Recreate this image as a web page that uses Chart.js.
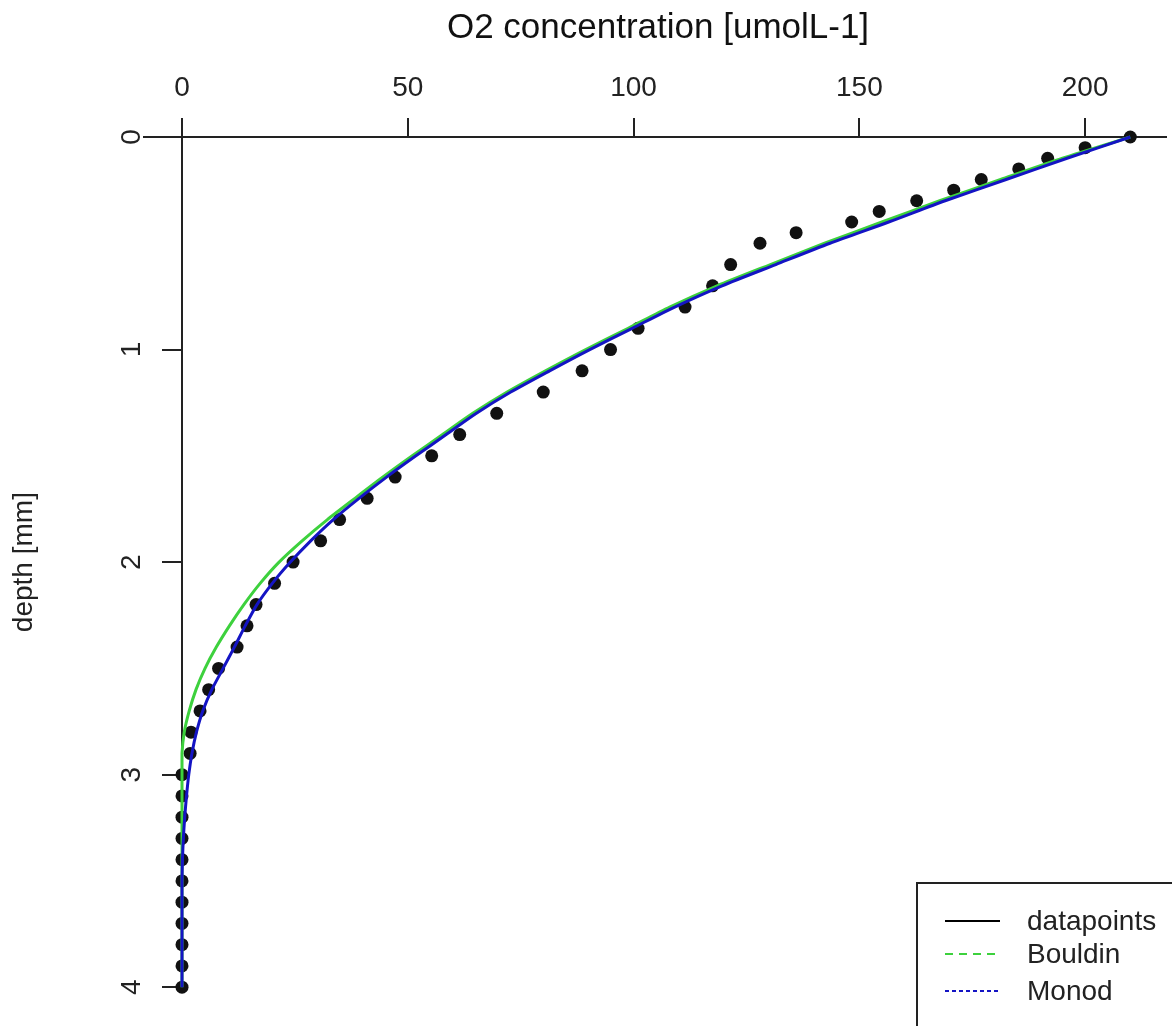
<!DOCTYPE html>
<html>
<head>
<meta charset="utf-8">
<script src="https://cdn.jsdelivr.net/npm/chart.js@4.4.1/dist/chart.umd.min.js"></script>
<style>
  html, body { margin: 0; padding: 0; background: #fff; }
  #grafico { width: 1172px; height: 1026px; }
</style>
</head>
<body>
<div id="grafico"><canvas id="profileChart"></canvas></div>
<script>
// measured O2 profile
const pointDepth = [0, 0.05, 0.1, 0.15, 0.2, 0.25, 0.3, 0.35, 0.4, 0.45, 0.5,
    0.6, 0.7, 0.8, 0.9, 1.0, 1.1, 1.2, 1.3, 1.4, 1.5, 1.6, 1.7, 1.8, 1.9, 2.0,
    2.1, 2.2, 2.3, 2.4, 2.5, 2.6, 2.7, 2.8, 2.9, 3.0, 3.1, 3.2, 3.3, 3.4, 3.5,
    3.6, 3.7, 3.8, 3.9, 4.0];
const pointO2 = [210.0, 200.0, 191.7, 185.3, 177.0, 170.9, 162.7, 154.4, 148.3, 136.0, 128.0,
    121.5, 117.5, 111.4, 101.0, 94.9, 88.6, 80.0, 69.7, 61.5, 55.3, 47.2, 41.0, 34.9, 30.7, 24.6,
    20.5, 16.4, 14.4, 12.2, 8.1, 5.9, 4.0, 2.0, 1.8, 0, 0, 0, 0, 0, 0,
    0, 0, 0, 0, 0];

// fitted models
const curveDepth = [0, 0.1, 0.2, 0.3, 0.4, 0.5, 0.6, 0.7, 0.8, 0.9, 1.0,
    1.1, 1.2, 1.3, 1.4, 1.5, 1.6, 1.7, 1.8, 1.9, 2.0,
    2.1, 2.2, 2.3, 2.4, 2.5, 2.6, 2.7, 2.8, 2.9, 3.0,
    3.1, 3.2, 3.3, 3.4, 3.5, 3.6, 3.7, 3.8, 3.9, 4.0];
const bouldinO2 = [210, 195, 181.3, 167.8, 155, 142.3, 130.3, 118.5, 108, 98.8, 89.4,
    80.5, 72, 64.4, 57.7, 51, 44.5, 38.3, 32.2, 26.6, 21.5,
    17.3, 13.7, 10.5, 7.6, 5.1, 3.1, 1.6, 0.5, 0, 0,
    0, 0, 0, 0, 0, 0, 0, 0, 0, 0];
const monodO2 = [210, 196, 182.5, 169, 156.5, 143.5, 131.5, 119.6, 109.1, 99.7, 90.3,
    81.4, 72.8, 65.2, 58.5, 51.8, 45.3, 39.2, 33.5, 28.5, 24.0,
    20.0, 16.6, 14.0, 11.6, 9.1, 6.6, 4.6, 3.2, 2.2, 1.5,
    1.0, 0.6, 0.3, 0.1, 0, 0, 0, 0, 0, 0];

const xTickValues = [0, 50, 100, 150, 200];
const yTickValues = [0, 1, 2, 3, 4];
const legendLabels = ['datapoints', 'Bouldin', 'Monod'];

const axisColor = '#222';
const bouldinColor = '#3dd13d';
const monodColor = '#1414c4';
const fontFamily = '"Liberation Sans", Arial, sans-serif';

function toXY(xs, ys) {
    return xs.map((x, i) => ({ x: x, y: ys[i] }));
}

const decorPlugin = {
    id: 'decor',
    afterDraw(chart) {
        const ctx = chart.ctx;
        const x0 = chart.scales.x.getPixelForValue(0);
        const y0 = chart.scales.y.getPixelForValue(0);

        ctx.save();
        // zero line runs a bit past the y axis
        ctx.strokeStyle = axisColor;
        ctx.lineWidth = 2;
        ctx.beginPath();
        ctx.moveTo(x0 - 39, y0);
        ctx.lineTo(x0, y0);
        ctx.stroke();

        // main title
        ctx.fillStyle = '#111';
        ctx.font = '35px ' + fontFamily;
        ctx.textAlign = 'center';
        ctx.textBaseline = 'alphabetic';
        ctx.fillText('O2 concentration [umolL-1]', 658, 38);

        // legend box, cut by the picture edge like the original
        ctx.lineWidth = 2;
        ctx.strokeRect(917, 883, 400, 300);
        const rows = [921, 954, 991];
        const styles = [
            { color: '#000', dash: [] },
            { color: bouldinColor, dash: [8, 6] },
            { color: monodColor, dash: [4, 3] }
        ];
        ctx.font = '28px ' + fontFamily;
        ctx.textAlign = 'left';
        ctx.textBaseline = 'middle';
        legendLabels.forEach((lab, i) => {
            ctx.strokeStyle = styles[i].color;
            ctx.setLineDash(styles[i].dash);
            ctx.lineWidth = 2;
            ctx.beginPath();
            ctx.moveTo(945, rows[i]);
            ctx.lineTo(1000, rows[i]);
            ctx.stroke();
            ctx.setLineDash([]);
            ctx.fillStyle = '#222';
            ctx.fillText(lab, 1027, rows[i] + 1);
        });
        ctx.restore();
    }
};

new Chart(document.getElementById('profileChart').getContext('2d'), {
    type: 'scatter',
    data: {
        datasets: [
            {
                label: legendLabels[2],
                data: toXY(monodO2, curveDepth),
                showLine: true,
                borderColor: monodColor,
                borderWidth: 3,
                pointRadius: 0,
                tension: 0.25,
                clip: false,
                order: 0
            },
            {
                label: legendLabels[1],
                data: toXY(bouldinO2, curveDepth),
                showLine: true,
                borderColor: bouldinColor,
                borderWidth: 3,
                pointRadius: 0,
                tension: 0.25,
                clip: false,
                order: 1
            },
            {
                label: legendLabels[0],
                data: toXY(pointO2, pointDepth),
                showLine: false,
                backgroundColor: '#111',
                borderWidth: 0,
                pointRadius: 6.5,
                clip: false,
                order: 2
            }
        ]
    },
    options: {
        responsive: true,
        maintainAspectRatio: false,
        animation: false,
        events: [],
        layout: { padding: { left: 0, right: 0, top: 0, bottom: 34 } },
        plugins: {
            legend: { display: false },
            tooltip: { enabled: false }
        },
        scales: {
            x: {
                type: 'linear',
                position: 'top',
                min: 0,
                max: 217.8,
                afterBuildTicks: (scale) => { scale.ticks = xTickValues.map(v => ({ value: v })); },
                afterFit: (scale) => { scale.height = 137; },
                ticks: {
                    color: '#222',
                    font: { family: fontFamily, size: 28 },
                    padding: 13,
                    maxRotation: 0
                },
                grid: {
                    drawOnChartArea: false,
                    drawTicks: true,
                    tickLength: 19,
                    color: axisColor,
                    lineWidth: 2
                },
                border: { display: true, color: axisColor, width: 2 }
            },
            y: {
                type: 'linear',
                reverse: true,
                min: 0,
                max: 4,
                afterBuildTicks: (scale) => { scale.ticks = yTickValues.map(v => ({ value: v })); },
                afterFit: (scale) => { scale.width = 182; },
                ticks: {
                    color: '#222',
                    font: { family: fontFamily, size: 28 },
                    padding: 22,
                    minRotation: 90,
                    maxRotation: 90,
                    crossAlign: 'center'
                },
                grid: {
                    drawOnChartArea: false,
                    drawTicks: true,
                    tickLength: 20,
                    color: axisColor,
                    lineWidth: 2
                },
                border: { display: true, color: axisColor, width: 2 },
                title: {
                    display: true,
                    text: 'depth [mm]',
                    color: '#222',
                    font: { family: fontFamily, size: 28 },
                    padding: { top: 7, bottom: 0 }
                }
            }
        }
    },
    plugins: [decorPlugin]
});
</script>
</body>
</html>
